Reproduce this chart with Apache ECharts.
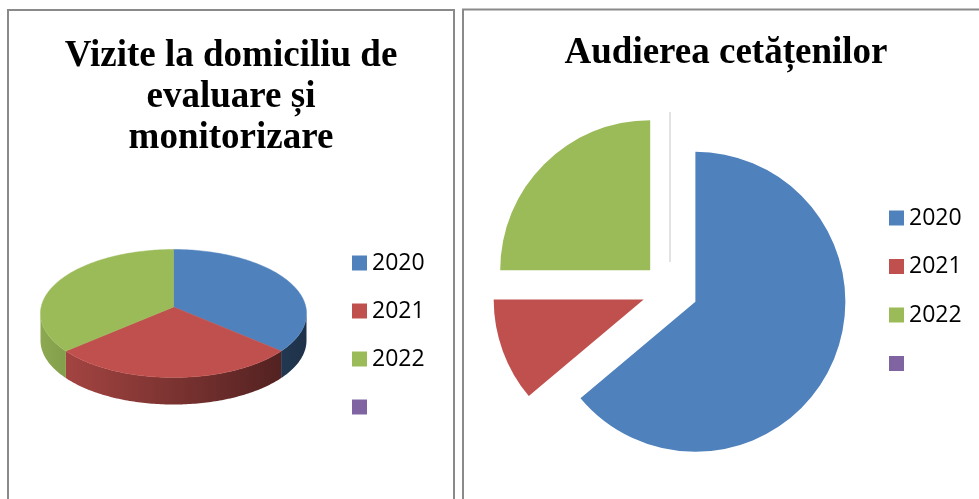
<!DOCTYPE html>
<html>
<head>
<meta charset="utf-8">
<script src="https://cdn.jsdelivr.net/npm/echarts@6/dist/echarts.min.js"></script>
<style>
  html, body { margin: 0; padding: 0; background: #fff; }
  #chart { width: 979px; height: 499px; }
</style>
</head>
<body>
<div id="chart"></div>
<script>
// data
const visitYears = ["2020", "2021", "2022", " "];
const visitValues = [35, 30, 35, 0];
const hearingYears = ["2020", "2021", "2022", " "];
const hearingValues = [23, 4, 9, 0];
const sliceColors = ["#4F81BD", "#C0504D", "#9BBB59", "#8064A2"];

// layout of the tilted pie (left panel)
const pie3d = { cx: 173.5, cy: 313.5, rx: 133, ry: 64, apexY: 307, depth: 27 };

function shade(hex, f) {
	const n = parseInt(hex.slice(1), 16);
	const r = Math.round(((n >> 16) & 255) * f);
	const g = Math.round(((n >> 8) & 255) * f);
	const b = Math.round((n & 255) * f);
	return "rgb(" + r + "," + g + "," + b + ")";
}

function rimPoint(deg, dy) {
	const t = deg * Math.PI / 180;
	return [pie3d.cx + pie3d.rx * Math.sin(t), pie3d.cy - pie3d.ry * Math.cos(t) + dy];
}

function arcPoints(a, b, dy) {
	const pts = [];
	const n = Math.max(2, Math.ceil(b - a));
	for (let k = 0; k <= n; k++) {
		pts.push(rimPoint(a + (b - a) * k / n, dy));
	}
	return pts;
}

function renderSlice(idx) {
	return function (params, api) {
		const value = api.value(0);
		if (!value) return null;
		const total = visitValues.reduce((s, v) => s + v, 0);
		const before = visitValues.slice(0, idx).reduce((s, v) => s + v, 0);
		const a = before / total * 360;
		const b = (before + value) / total * 360;
		const color = api.visual("color");
		const children = [];
		// visible side wall: front half of the rim only
		const s = Math.max(a, 90);
		const e = Math.min(b, 270);
		if (e > s) {
			const top = arcPoints(s, e, 0);
			const bottom = arcPoints(s, e, pie3d.depth).reverse();
			children.push({
				type: "polygon",
				shape: { points: top.concat(bottom) },
				style: {
					fill: new echarts.graphic.LinearGradient(pie3d.cx - pie3d.rx, 0, pie3d.cx + pie3d.rx, 0, [
						{ offset: 0, color: shade(color, 0.9) },
						{ offset: 1, color: shade(color, 0.38) }
					], true)
				}
			});
		}
		children.push({
			type: "polygon",
			z2: 5,
			shape: { points: [[pie3d.cx, pie3d.apexY]].concat(arcPoints(a, b, 0)) },
			style: { fill: color, stroke: color, lineWidth: 0.5 }
		});
		return { type: "group", children };
	};
}

const legendText = { fontFamily: "Open Sans", fontSize: 23, lineHeight: 24, color: "#000" };
const titleText = { fontFamily: "Liberation Serif", fontWeight: "bold", fontSize: 37, lineHeight: 41, color: "#000" };

const chart = echarts.init(document.getElementById("chart"));
chart.setOption({
	animation: false,
	graphic: [
		{ type: "rect", shape: { x: 8, y: 10, width: 446, height: 600 }, style: { fill: null, stroke: "#8a8a8a", lineWidth: 2 } },
		{ type: "rect", shape: { x: 463, y: 9.5, width: 600, height: 600 }, style: { fill: null, stroke: "#8a8a8a", lineWidth: 2 } }
	],
	title: [
		{ text: "Vizite la domiciliu de\nevaluare și\nmonitorizare", left: 231, top: 36, padding: 0, textAlign: "center", textStyle: titleText },
		{ text: "Audierea cetățenilor", left: 726, top: 33, padding: 0, textAlign: "center", textStyle: titleText }
	],
	legend: [
		{
			orient: "vertical", left: 352, top: 251, padding: 0,
			data: visitYears, icon: "rect", itemWidth: 15, itemHeight: 15, itemGap: 24,
			selectedMode: false, textStyle: legendText
		},
		{
			orient: "vertical", left: 889, top: 206, padding: 0,
			data: hearingYears, icon: "rect", itemWidth: 15, itemHeight: 15, itemGap: 24.5,
			selectedMode: false, textStyle: legendText
		}
	],
	series: visitYears.map((name, i) => ({
		type: "custom",
		name: name,
		coordinateSystem: "none",
		silent: true,
		itemStyle: { color: sliceColors[i] },
		renderItem: renderSlice(i),
		data: [[visitValues[i]]]
	})).concat([{
		type: "pie",
		name: "Audierea cetățenilor",
		center: [670, 290],
		radius: 150,
		startAngle: 90,
		clockwise: true,
		selectedMode: "multiple",
		selectedOffset: 28,
		silent: true,
		label: { show: false },
		labelLine: { show: false },
		emphasis: { disabled: true },
		data: hearingYears.map((name, i) => ({
			name: name,
			value: hearingValues[i],
			selected: true,
			itemStyle: hearingValues[i] === 0
				? { color: sliceColors[i], borderColor: "#d9d9d9", borderWidth: 1 }
				: { color: sliceColors[i], borderWidth: 0 }
		}))
	}])
});
</script>
</body>
</html>
